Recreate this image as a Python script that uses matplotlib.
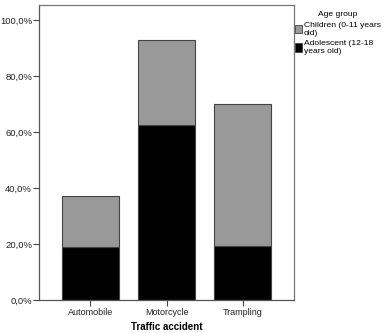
import matplotlib
matplotlib.use('Agg')
import numpy as np
from matplotlib import pyplot as plt
from matplotlib.patches import Patch
from matplotlib.ticker import FuncFormatter

# Values (percent)
categories = ['Automobile', 'Motorcycle', 'Trampling']
adolescent = [18.8, 62.5, 19.3]
children = [18.4, 30.4, 50.9]
series_labels = ['Children (0-11 years\nold)', 'Adolescent (12-18\nyears old)']
yticks = [0, 20, 40, 60, 80, 100]

plt.rcParams['font.family'] = ['Liberation Sans', 'DejaVu Sans']

fig = plt.figure(figsize=(3.86, 3.33), dpi=100)
ax = fig.add_axes([39/386, 33/333, 255/386, 295/333])

x = np.arange(len(categories))
ax.bar(x, adolescent, width=0.75, color='black', edgecolor='#444444', linewidth=0.8, zorder=2)
ax.bar(x, children, width=0.75, bottom=adolescent, color='#999999', edgecolor='#444444', linewidth=0.8, zorder=2)

ax.set_xlim(-0.67, 2.67)
ax.set_ylim(0, 105.4)
ax.set_xticks(x)
ax.set_xticklabels(categories)
ax.set_yticks(yticks)
ax.yaxis.set_major_formatter(FuncFormatter(lambda v, p: f'{v:.1f}%'.replace('.', ',')))
ax.tick_params(labelsize=6.5, length=4, width=0.8, color='#444444', labelcolor='#222222', pad=1.5)
ax.tick_params(axis='y', labelsize=6.8, pad=1.0)
ax.set_xlabel('Traffic accident', fontsize=7, fontweight='bold', labelpad=4)

for s in ['left', 'bottom']:
    ax.spines[s].set_color('#555555')
    ax.spines[s].set_linewidth(0.9)
for s in ['top', 'right']:
    ax.spines[s].set_color('#777777')
    ax.spines[s].set_linewidth(0.9)

handles = [Patch(facecolor='#999999', edgecolor='#444444', linewidth=0.6),
           Patch(facecolor='black', edgecolor='#444444', linewidth=0.6)]
leg = ax.legend(handles, series_labels, title='Age group', loc='upper left',
                bbox_to_anchor=(1.0, 0.985), frameon=False, fontsize=6.1,
                title_fontsize=6.1, handlelength=0.75, handleheight=1.1,
                handletextpad=0.25, borderaxespad=0.05, labelspacing=0.45,
                borderpad=0.1)
leg._legend_box.align = 'center'

fig.savefig('out.png', dpi=100)
